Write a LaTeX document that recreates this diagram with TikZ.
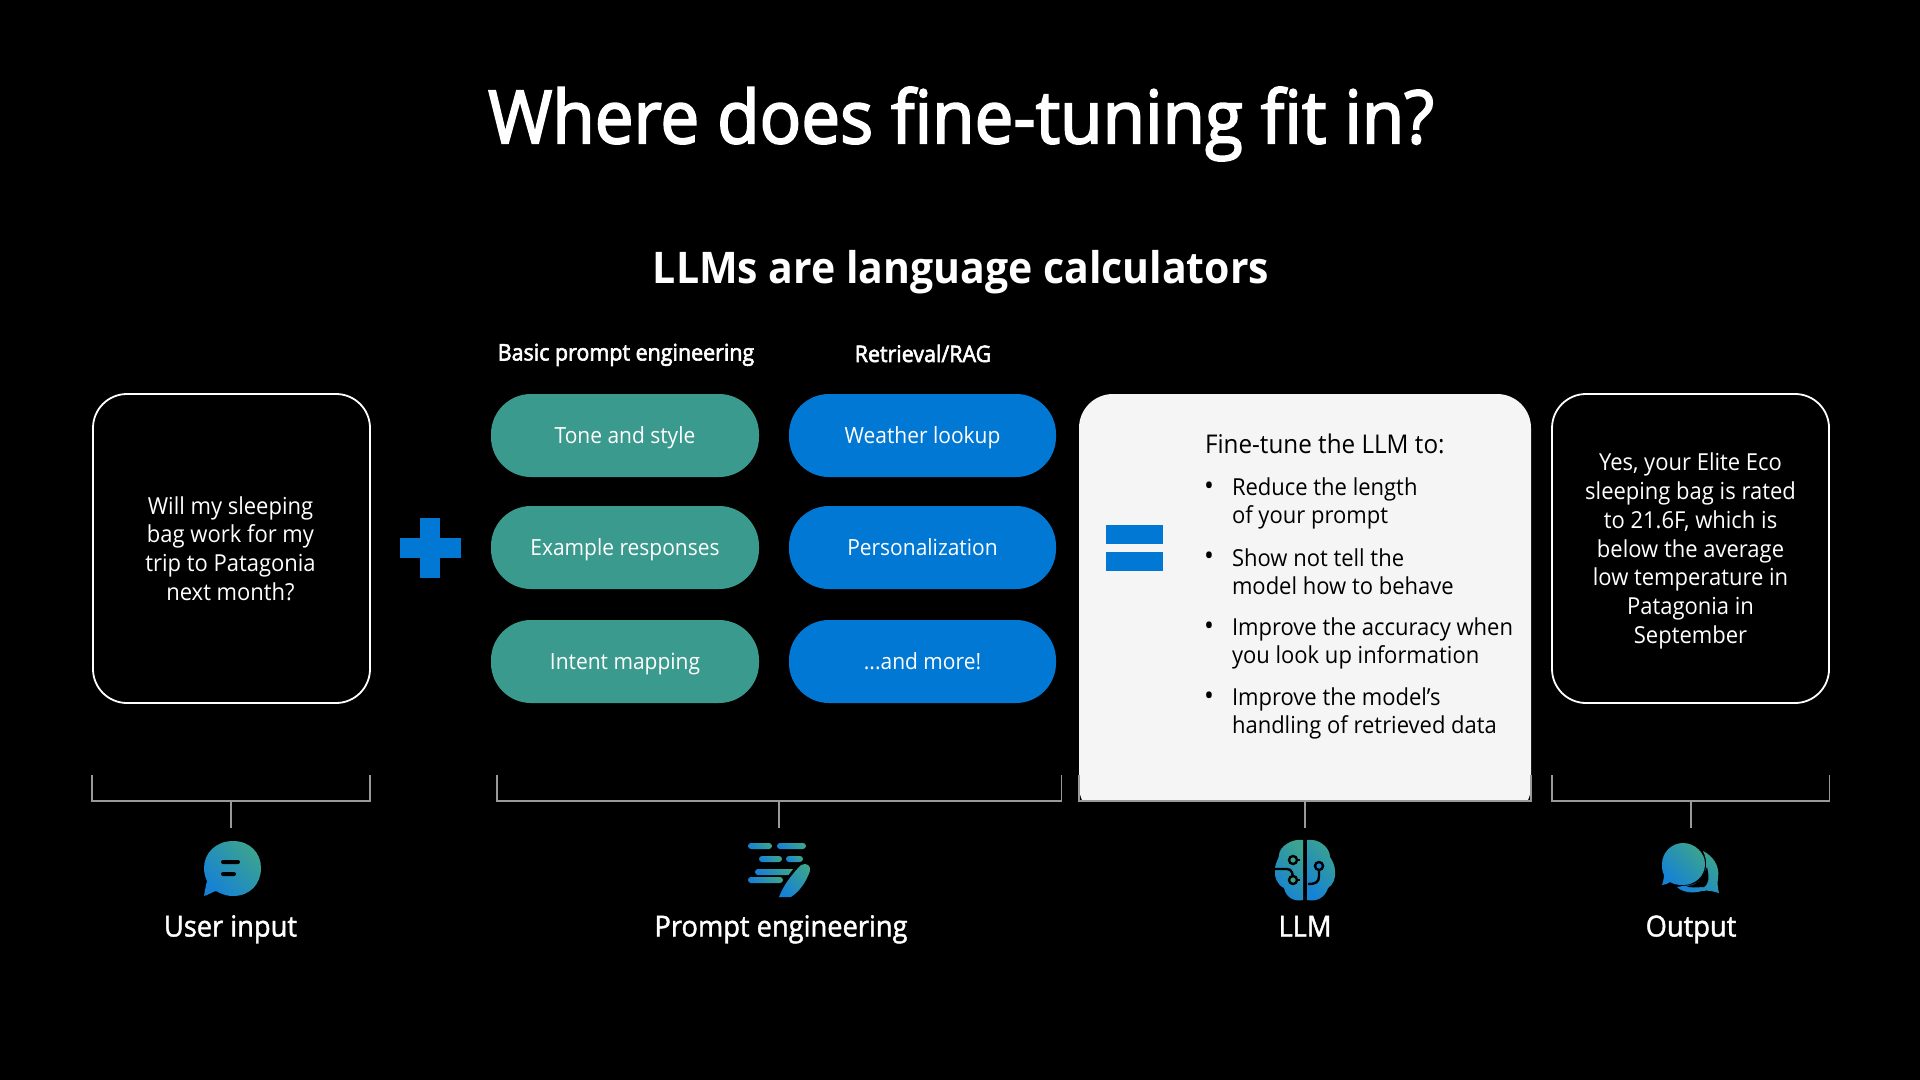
\documentclass[tikz,border=0pt]{standalone}
\usepackage{fontspec}
\setmainfont[FakeStretch=0.94]{Open Sans}
\newfontfamily\semifont[FakeStretch=0.94,FakeBold=2.5]{Open Sans}
\newfontfamily\medfont[FakeStretch=0.94,FakeBold=1.5]{Open Sans}
\newfontfamily\boldfont[FakeStretch=0.94,BoldFont={Open Sans Bold}]{Open Sans}
\definecolor{tealc}{HTML}{3B9A8E}
\definecolor{bluec}{HTML}{0078D4}
\definecolor{paper}{HTML}{F5F5F5}
\definecolor{linec}{HTML}{999999}
\definecolor{icona}{HTML}{3BA38F}
\definecolor{iconb}{HTML}{1682D4}
\tikzset{
  x=0.5pt,y=-0.5pt,
  base/.style={inner sep=0pt,outer sep=0pt},
  bodytext/.style={base,text=white,align=center,font=\fontsize{11.7}{14.4}\selectfont},
  inputbox/.style={base,draw=white,line width=0.9pt,fill=black,rounded corners=17pt,minimum width=138.5pt,minimum height=154.5pt},
  greenpill/.style={base,fill=tealc,rounded corners=20pt,minimum width=134pt,minimum height=41.5pt,text=white,text height=9pt,text depth=1pt,font=\fontsize{11.15}{13}\selectfont},
  bluepill/.style={greenpill,fill=bluec,minimum width=133.5pt},
  bullettext/.style={base,text=black,align=left,anchor=west,font=\fontsize{11.7}{14.2}\selectfont},
  dotnode/.style={base,text=black,anchor=center,font=\fontsize{14}{14}\selectfont},
  bracket/.style={draw=linec,line width=0.75pt},
  caption/.style={base,text=white,text height=10pt,text depth=1pt,font=\medfont\fontsize{14.5}{17}\selectfont},
  header/.style={base,text=white,text height=9pt,text depth=1pt,font=\semifont\fontsize{11.4}{14}\selectfont},
  iconfill/.style={left color=icona,right color=iconb,shading angle=-45},
}
\begin{document}
\begin{tikzpicture}
\useasboundingbox (0,0) rectangle (1920,1080);
\fill[black] (0,0) rectangle (1920,1080);

\node[base,text=white,font=\semifont\fontsize{36.8}{44}\selectfont] (title) at (961,124) {Where does fine-tuning fit in?};
\node[base,text=white,font=\boldfont\bfseries\fontsize{21.8}{26}\selectfont] (subtitle) at (961,272) {LLMs are language calculators};
\node[header] (hbasic) at (626,352.5) {Basic prompt engineering};
\node[header] (hrag) at (923,354) {Retrieval/RAG};

\node[inputbox] (user) at (231.5,548.5) {};
\node[inputbox] (output) at (1690.5,548.5) {};
\node[bodytext] (utext) at (230.5,548.5) {Will my sleeping\\bag work for my\\trip to Patagonia\\next month?};
\node[bodytext] (otext) at (1690.5,551) {Yes, your Elite Eco\\sleeping bag is rated\\to 21.6F, which is\\below the average\\low temperature in\\Patagonia in\\September};

\node[greenpill] (g1) at (625,435.5) {Tone and style};
\node[greenpill] (g2) at (625,547.5) {Example responses};
\node[greenpill] (g3) at (625,661.5) {Intent mapping};
\node[bluepill] (b1) at (922.5,435.5) {Weather lookup};
\node[bluepill] (b2) at (922.5,547.5) {Personalization};
\node[bluepill] (b3) at (922.5,661.5) {...and more!};

% plus
\fill[bluec] (420,518) rectangle (440,578);
\fill[bluec] (399.5,538) rectangle (460.5,558);

% LLM panel
\fill[paper,rounded corners=17pt] (1079,394) -- (1531,394) -- (1531,820) -- (1079,820) -- cycle;
\fill[black] (1070,801) rectangle (1540,830);
\fill[bluec] (1106,525) rectangle (1163,544);
\fill[bluec] (1106,552) rectangle (1163,571);
\node[base,text=black,anchor=west,font=\fontsize{12.9}{16}\selectfont] (fthead) at (1205,444) {Fine-tune the LLM to:};
\node[dotnode] (d1) at (1209,489) {•};
\node[dotnode] (d2) at (1209,559) {•};
\node[dotnode] (d3) at (1209,629) {•};
\node[dotnode] (d4) at (1209,699) {•};
\node[bullettext] (t1) at (1232,503.5) {Reduce the length\\of your prompt};
\node[bullettext] (t2) at (1232,571.5) {Show not tell the\\model how to behave};
\node[bullettext] (t3) at (1232,643.5) {Improve the accuracy when\\you look up information};
\node[bullettext] (t4) at (1232,713.5) {Improve the model’s\\handling of retrieved data};

% brackets
\coordinate (ua) at (92,775); \coordinate (ub) at (92,801); \coordinate (uc) at (370,801); \coordinate (ud) at (370,775);
\coordinate (us) at (231,801); \coordinate (ue) at (231,828);
\draw[bracket] (ua) -- (ub) -- (uc) -- (ud); \draw[bracket] (us) -- (ue);
\coordinate (pa) at (497,775); \coordinate (pb) at (497,801); \coordinate (pc) at (1061.5,801); \coordinate (pd) at (1061.5,775);
\coordinate (ps) at (779,801); \coordinate (pe) at (779,828);
\draw[bracket] (pa) -- (pb) -- (pc) -- (pd); \draw[bracket] (ps) -- (pe);
\coordinate (la) at (1079,775); \coordinate (lb) at (1079,801); \coordinate (lc) at (1531,801); \coordinate (ld) at (1531,775);
\coordinate (ls) at (1305,801); \coordinate (le) at (1305,828);
\draw[bracket] (la) -- (lb) -- (lc) -- (ld); \draw[bracket] (ls) -- (le);
\coordinate (oa) at (1552,775); \coordinate (ob) at (1552,801); \coordinate (oc) at (1829.5,801); \coordinate (od) at (1829.5,775);
\coordinate (os) at (1691,801); \coordinate (oe) at (1691,828);
\draw[bracket] (oa) -- (ob) -- (oc) -- (od); \draw[bracket] (os) -- (oe);

% user icon
\shade[iconfill] (233,841) .. controls (250,841) and (261,853) .. (261,868) .. controls (261,884) and (250,896) .. (233,896) .. controls (225,896) and (220,893) .. (216,891) .. controls (212,892) and (208,895) .. (204,896) .. controls (205,890) and (206,885) .. (207,881) .. controls (205,877) and (204,872) .. (204,868) .. controls (204,853) and (216,841) .. (233,841) -- cycle;
\fill[black,rounded corners=1pt] (221,860) rectangle (240,864);
\fill[black,rounded corners=1pt] (221,872) rectangle (236,876);

% prompt icon
\begin{scope}
\clip (740,835) rectangle (820,905);
\shade[iconfill,rounded corners=1.5pt] (748,843) rectangle (772,849);
\shade[iconfill,rounded corners=1.5pt] (777,843) rectangle (806,849);
\shade[iconfill,rounded corners=1.5pt] (759,856) rectangle (782,862);
\shade[iconfill,rounded corners=1.5pt] (786,856) rectangle (803,862);
\shade[iconfill,rounded corners=1.5pt] (755,869) rectangle (795,875);
\shade[iconfill,rounded corners=1.5pt] (748,877) rectangle (783,883);
\fill[black] (799,862) -- (814,870) -- (792,902) -- (775,892) -- cycle;
\shade[iconfill] (801,865) .. controls (807,862) and (811,866) .. (810,871) .. controls (806,882) and (800,891) .. (791,897) -- (779,897) .. controls (783,886) and (792,874) .. (801,865) -- cycle;
\end{scope}

% brain icon
\shade[iconfill] (1303,840) -- (1303,900) .. controls (1295,902) and (1286,898) .. (1284,888) .. controls (1277,885) and (1274,876) .. (1275,870) .. controls (1275,862) and (1279,859) .. (1279,855) .. controls (1279,847) and (1292,838) .. (1303,840) -- cycle;
\shade[iconfill] (1307,840) -- (1307,900) .. controls (1316,902) and (1325,898) .. (1328,888) .. controls (1333,885) and (1336,878) .. (1335,871) .. controls (1335,865) and (1332,860) .. (1330,857) .. controls (1330,847) and (1318,838) .. (1307,840) -- cycle;
\draw[black,line width=1.2pt] (1275,869) -- (1287,869) .. controls (1292,869) and (1293,874) .. (1293,880);
\draw[black,line width=1.2pt] (1293,860) -- (1300,860);
\draw[black,line width=1.2pt] (1293,880) -- (1300,880);
\draw[black,line width=1.2pt] (1319,866) -- (1319,876) .. controls (1319,882) and (1316,884) .. (1308,884);
\filldraw[fill=icona,draw=black,line width=1.2pt] (1293,860) circle (4);
\filldraw[fill=icona,draw=black,line width=1.2pt] (1293,880) circle (4);
\filldraw[fill=iconb,draw=black,line width=1.2pt] (1319,866) circle (4);

% output icon
\shade[iconfill] (1703,851) .. controls (1713,856) and (1720,866) .. (1718,878) .. controls (1717,884) and (1718,889) .. (1719,893) .. controls (1712,891) and (1708,890) .. (1702,891) .. controls (1692,894) and (1682,892) .. (1677,887) -- (1688,885) .. controls (1700,886) and (1712,870) .. (1703,851) -- cycle;
\fill[black] (1684,885) .. controls (1695,888) and (1702,880) .. (1707,867) .. controls (1710,880) and (1708,884) .. (1704,887) .. controls (1698,887) and (1690,889) .. (1684,885) -- cycle;
\shade[iconfill] (1683,843) .. controls (1695,843) and (1705,853) .. (1705,864) .. controls (1705,876) and (1695,885) .. (1683,885) .. controls (1677,885) and (1673,884) .. (1670,882) .. controls (1667,884) and (1664,885) .. (1662,885) .. controls (1663,882) and (1664,878) .. (1664,875) .. controls (1662,871) and (1662,868) .. (1662,864) .. controls (1662,853) and (1671,843) .. (1683,843) -- cycle;

\node[caption] (cu) at (230.5,927.5) {User input};
\node[caption] (cp) at (781,927.5) {Prompt engineering};
\node[caption] (cl) at (1305,927.5) {LLM};
\node[caption] (co) at (1691,927.5) {Output};
\end{tikzpicture}
\end{document}
